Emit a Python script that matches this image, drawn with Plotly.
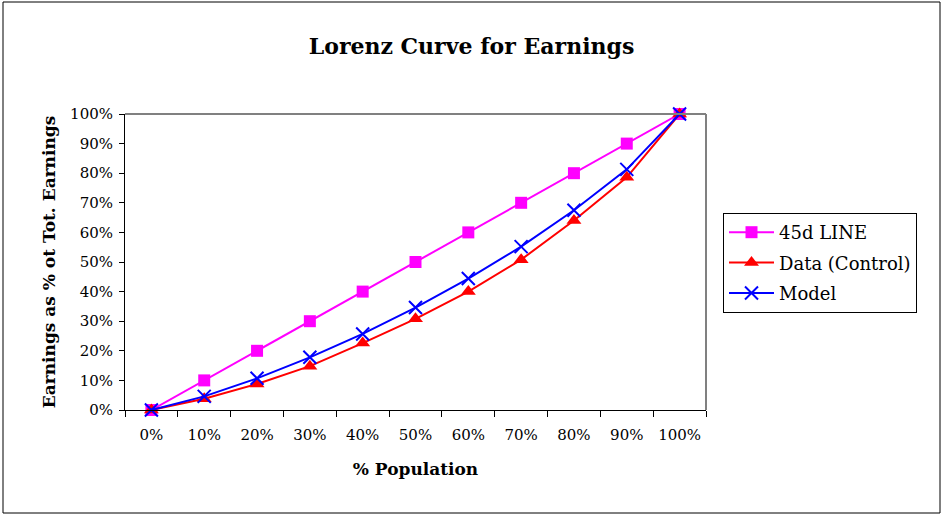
import plotly.graph_objects as go

categories = ["0%", "10%", "20%", "30%", "40%", "50%", "60%", "70%", "80%", "90%", "100%"]
line45 = [0.0, 0.10, 0.20, 0.30, 0.40, 0.50, 0.60, 0.70, 0.80, 0.90, 1.00]
data_control = [0.0, 0.038, 0.088, 0.148, 0.226, 0.308, 0.400, 0.508, 0.640, 0.786, 1.00]
model = [0.0, 0.046, 0.107, 0.178, 0.257, 0.346, 0.444, 0.552, 0.675, 0.813, 1.00]

FONT = "DejaVu Serif"

fig = go.Figure()
fig.add_trace(go.Scatter(x=categories, y=line45, name="45d LINE", mode="lines+markers",
                         legendgroup="a",
                         line=dict(color="#FF00FF", width=2),
                         marker=dict(symbol="square", size=12, color="#FF00FF"), cliponaxis=False))
fig.add_trace(go.Scatter(x=categories, y=data_control, name="Data (Control)", mode="lines+markers",
                         legendgroup="b",
                         line=dict(color="#FF0000", width=2),
                         marker=dict(symbol="triangle-up", size=13, color="#FF0000"), cliponaxis=False))
fig.add_trace(go.Scatter(x=categories, y=model, name="Model", mode="lines+markers",
                         legendgroup="c",
                         line=dict(color="#0000FF", width=2),
                         marker=dict(symbol="x-thin-open", size=13, color="#0000FF",
                                     line=dict(color="#0000FF", width=2)), cliponaxis=False))

L, R, T, B = 125, 706, 114, 410
W, H = 943, 516
pw, ph = R - L, B - T

def px(xp):
    return (xp - L) / pw

def py(yp):
    return (B - yp) / ph

shapes = [
    # outer chart border
    dict(type="rect", xref="paper", yref="paper", x0=px(3), x1=px(940), y0=py(513), y1=py(2),
         line=dict(color="black", width=1), layer="below"),
    # gray top and right plot border
    dict(type="line", xref="paper", yref="paper", x0=0, x1=1, y0=1, y1=1,
         line=dict(color="#808080", width=2)),
    dict(type="line", xref="paper", yref="paper", x0=1, x1=1, y0=0, y1=1,
         line=dict(color="#808080", width=2)),
]

fig.update_layout(
    width=W, height=H,
    margin=dict(l=L, r=W - R, t=T, b=H - B),
    paper_bgcolor="white", plot_bgcolor="white",
    font=dict(family=FONT, size=15, color="black"),
    title=dict(text="<b>Lorenz Curve for Earnings</b>", x=0.5, xanchor="center",
               y=1 - 46 / H, yanchor="middle", font=dict(family=FONT, size=22, color="black")),
    xaxis=dict(type="category", range=[-0.5, 10.5], showgrid=False, showline=True,
               linecolor="black", linewidth=1,
               ticks="outside", tickson="boundaries", ticklen=6, tickcolor="black",
               ticklabelstandoff=11,
               tickfont=dict(family=FONT, size=15),
               title=dict(text="<b>% Population</b>", font=dict(family=FONT, size=17), standoff=20)),
    yaxis=dict(range=[0, 1], dtick=0.1, tickformat=".0%", showgrid=False, showline=True,
               linecolor="black", linewidth=1, ticks="outside", ticklen=5, tickcolor="black",
               ticklabelstandoff=3,
               zeroline=False, tickfont=dict(family=FONT, size=15),
               title=dict(text="<b>Earnings as % ot Tot. Earnings</b>", font=dict(family=FONT, size=17),
                          standoff=10)),
    legend=dict(x=px(723), y=py(213), xanchor="left", yanchor="top",
                bordercolor="black", borderwidth=1, bgcolor="white",
                font=dict(family=FONT, size=18), tracegroupgap=4, traceorder="grouped",
                itemwidth=45),
    shapes=shapes,
)

fig.write_html("out.html", config={"displayModeBar": False},
               post_script="document.body.style.margin='0';")
